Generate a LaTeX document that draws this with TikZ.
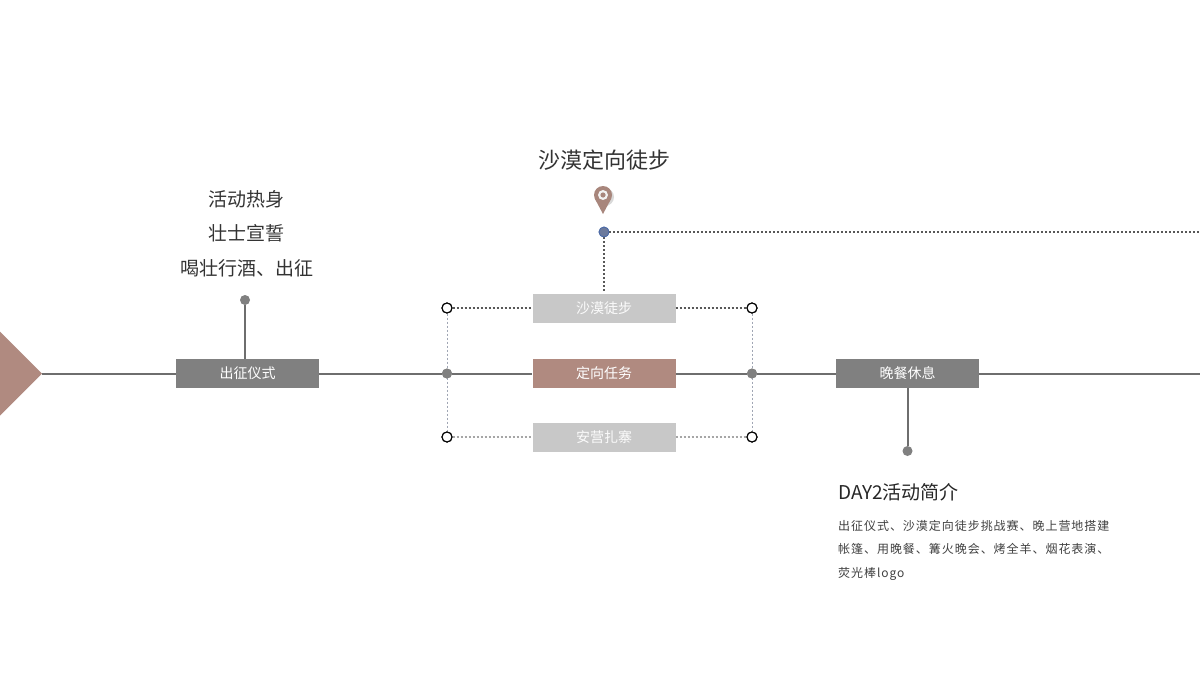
\documentclass[tikz,border=0pt]{standalone}
\usepackage{fontspec}
\newfontfamily\cjk{Noto Sans CJK SC}
\newfontfamily\cjkdesc[LetterSpace=8]{Noto Sans CJK SC}
\definecolor{lineg}{HTML}{6E6E6E}
\definecolor{boxg}{HTML}{808080}
\definecolor{boxl}{HTML}{C8C8C8}
\definecolor{brown}{HTML}{B08A80}
\definecolor{pinc}{HTML}{A8867C}
\definecolor{txt}{HTML}{333333}
\definecolor{bluedot}{HTML}{6C7A9C}
\definecolor{blueedge}{HTML}{4A6AA8}
\definecolor{vdot}{HTML}{A0A6B4}
\begin{document}
\begin{tikzpicture}[x=1pt,y=-1pt,
  mainline/.style={draw=lineg,line width=2pt},
  boxbase/.style={minimum width=143pt,minimum height=29pt,inner sep=0pt,font=\cjk\fontsize{14}{16}\selectfont},
  darkbox/.style={boxbase,fill=boxg,text=white},
  lightbox/.style={boxbase,fill=boxl,text=white!92!boxl},
  brownbox/.style={boxbase,fill=brown,text=white},
  graydot/.style={circle,fill=boxg,inner sep=0pt,minimum size=10pt},
  opendot/.style={circle,draw=black,fill=white,line width=1.1pt,inner sep=0pt,minimum size=10pt},
  darkdots/.style={draw=lineg!80!black,line width=1.2pt,dash pattern=on 2pt off 2pt},
  lightdots/.style={draw=gray!70,line width=1.1pt,dash pattern=on 2pt off 2pt},
  vdots/.style={draw=vdot,line width=1pt,dash pattern=on 2pt off 2pt},
  bigtxt/.style={font=\cjk\fontsize{19}{22}\selectfont,text=txt,inner sep=0pt},
]
\useasboundingbox (0,0) rectangle (1200,675);
% diamond
\fill[brown] (-6,325.5) -- (42,373.5) -- (-6,421.5) -- cycle;
\coordinate (tip) at (42,373.5);
\coordinate (rend) at (1200,373.5);
% boxes
\node[darkbox] (b1) at (247.5,373.5) {出征仪式};
\node[brownbox] (b2) at (604,373.5) {定向任务};
\node[lightbox] (bt) at (604,308) {沙漠徒步};
\node[lightbox] (bb) at (604,437) {安营扎寨};
\node[darkbox] (b3) at (907.5,373.5) {晚餐休息};
% dots
\node[graydot] (gl) at (447,373.5) {};
\node[graydot] (gr) at (752,373.5) {};
\node[opendot] (otl) at (447,308) {};
\node[opendot] (otr) at (752,308) {};
\node[opendot] (obl) at (447,437) {};
\node[opendot] (obr) at (752,437) {};
\node[graydot] (d1) at (245,300) {};
\node[graydot] (d3) at (907.5,451) {};
\node[circle,fill=bluedot,draw=blueedge,line width=0.8pt,inner sep=0pt,minimum size=10pt] (bd) at (604,232) {};
\coordinate (dend) at (1200,232);
\coordinate (b1n) at (245,359);
% main line
\draw[mainline] (tip) -- (b1.west);
\draw[mainline] (b1.east) -- (gl);
\draw[mainline] (gl) -- (b2.west);
\draw[mainline] (b2.east) -- (gr);
\draw[mainline] (gr) -- (b3.west);
\draw[mainline] (b3.east) -- (rend);
\draw[mainline] (b1n) -- (d1);
\draw[mainline] (b3.south) -- (d3);
% dotted connectors
\draw[vdots] (otl) -- (obl);
\draw[vdots] (otr) -- (obr);
\draw[darkdots] (otl) -- (bt.west);
\draw[darkdots] (bt.east) -- (otr);
\draw[lightdots] (obl) -- (bb.west);
\draw[lightdots] (bb.east) -- (obr);
\draw[darkdots] (bd) -- (bt.north);
\draw[darkdots] (bd) -- (dend);
\node[graydot] at (gl) {};
\node[graydot] at (gr) {};
\node[opendot] at (otl) {};
\node[opendot] at (otr) {};
\node[opendot] at (obl) {};
\node[opendot] at (obr) {};
\node[circle,fill=bluedot,draw=blueedge,line width=0.8pt,inner sep=0pt,minimum size=10pt] at (bd) {};
% pin
\fill[gray!30] (605,197) circle (9);
\fill[pinc] (603,195) circle (9);
\fill[pinc] (595,199) -- (611,199) -- (603,214) -- cycle;
\fill[white!90!gray] (603,195) circle (5);
\fill[pinc] (603,195) circle (2.6);
% texts
\node[font=\cjk\fontsize{22}{26}\selectfont,text=txt,inner sep=0pt] (title) at (604,160) {沙漠定向徒步};
\node[bigtxt] (t1) at (246,199) {活动热身};
\node[bigtxt] (t2) at (246,233) {壮士宣誓};
\node[bigtxt] (t3) at (247,268) {喝壮行酒、出征};
\node[font=\cjk\fontsize{19}{22}\selectfont,text=black!85,inner sep=0pt,anchor=west] (day) at (838,492) {DAY2活动简介};
\node[font=\cjkdesc\fontsize{12}{23.5}\selectfont,text=black!75,inner sep=0pt,anchor=north west,align=left] (desc) at (838,520) {出征仪式、沙漠定向徒步挑战赛、晚上营地搭建\\帐篷、用晚餐、篝火晚会、烤全羊、烟花表演、\\荧光棒logo};
\end{tikzpicture}
\end{document}
